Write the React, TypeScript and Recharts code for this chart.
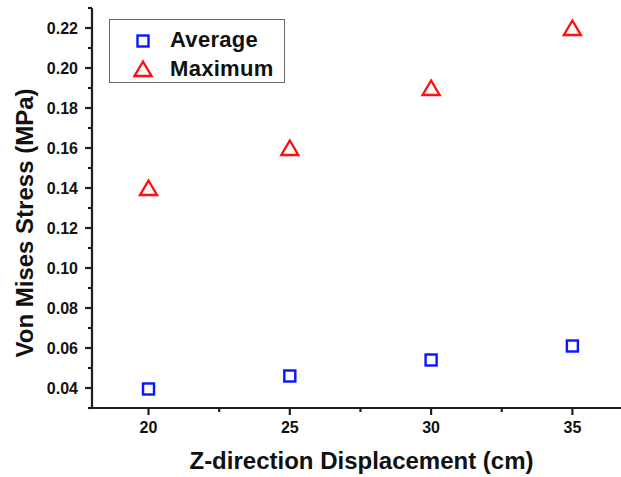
import { Label, Legend, Scatter, ScatterChart, XAxis, YAxis } from "recharts";

const displacement = [20, 25, 30, 35];
const averageStress = [0.0395, 0.046, 0.054, 0.061];
const maximumStress = [0.14, 0.16, 0.19, 0.22];

const xTicks = [20, 22.5, 25, 27.5, 30, 32.5, 35];
const xLabels = [20, 25, 30, 35];
const yTicks = [
  0.03, 0.04, 0.05, 0.06, 0.07, 0.08, 0.09, 0.1, 0.11, 0.12, 0.13, 0.14, 0.15,
  0.16, 0.17, 0.18, 0.19, 0.2, 0.21, 0.22, 0.23,
];
const yLabels = [0.04, 0.06, 0.08, 0.1, 0.12, 0.14, 0.16, 0.18, 0.2, 0.22];

const averageData = displacement.map((x, i) => ({ x, y: averageStress[i] }));
const maximumData = displacement.map((x, i) => ({ x, y: maximumStress[i] }));

const FONT = "'Liberation Sans', Arial, sans-serif";
const AXIS = "#1e1e1e";
const BLUE = "#0a14ff";
const RED = "#ff1010";

const isLabeled = (v: number, list: number[]) =>
  list.some((t) => Math.abs(t - v) < 1e-9);

function YTick(props: any) {
  const { x, y, payload } = props;
  const major = isLabeled(payload.value, yLabels);
  return (
    <g>
      <line x1={x} x2={x - (major ? 7 : 4)} y1={y} y2={y} stroke={AXIS} strokeWidth={2.2} />
      {major && (
        <text
          x={x - 14}
          y={y}
          dy="0.36em"
          textAnchor="end"
          fontSize={16}
          fontWeight="bold"
          fontFamily={FONT}
          fill="#111"
        >
          {payload.value.toFixed(2)}
        </text>
      )}
    </g>
  );
}

function XTick(props: any) {
  const { x, y, payload } = props;
  const major = isLabeled(payload.value, xLabels);
  return (
    <g>
      <line x1={x} x2={x} y1={y} y2={y + (major ? 7 : 4)} stroke={AXIS} strokeWidth={2.2} />
      {major && (
        <text
          x={x}
          y={y + 25}
          textAnchor="middle"
          fontSize={16}
          fontWeight="bold"
          fontFamily={FONT}
          fill="#111"
        >
          {payload.value}
        </text>
      )}
    </g>
  );
}

function XTitle(props: any) {
  const { x, y, width } = props.viewBox;
  return (
    <text
      x={x + width / 2 + 5}
      y={y + 61}
      textAnchor="middle"
      fontSize={24}
      fontWeight="bold"
      fontFamily={FONT}
      fill="#111"
    >
      Z-direction Displacement (cm)
    </text>
  );
}

function YTitle(props: any) {
  const { x, y, height } = props.viewBox;
  const tx = x + 33;
  const ty = y + height / 2 + 15;
  return (
    <text
      x={tx}
      y={ty}
      transform={`rotate(-90 ${tx} ${ty})`}
      textAnchor="middle"
      fontSize={24}
      fontWeight="bold"
      fontFamily={FONT}
      fill="#111"
    >
      Von Mises Stress (MPa)
    </text>
  );
}

const square = (props: any) => {
  const { cx, cy } = props;
  return (
    <rect x={cx - 5.5} y={cy - 5.5} width={11} height={11} fill="none" stroke={BLUE} strokeWidth={2.4} />
  );
};

const triangle = (props: any) => {
  const { cx, cy } = props;
  return (
    <polygon
      points={`${cx},${cy - 7.5} ${cx + 8.5},${cy + 7} ${cx - 8.5},${cy + 7}`}
      fill="none"
      stroke={RED}
      strokeWidth={2.4}
    />
  );
};

function LegendBox(props: any) {
  const items = props.payload || [];
  return (
    <div
      style={{
        position: "relative",
        width: 176,
        height: 64,
        boxSizing: "border-box",
        border: "1.5px solid #6a6a6a",
        background: "#fff",
        fontFamily: FONT,
        fontWeight: "bold",
        fontSize: 22,
        color: "#111",
      }}
    >
      {items.map((entry: any, i: number) => (
        <div
          key={entry.value}
          style={{
            position: "absolute",
            left: 0,
            top: i === 0 ? 7 : 36,
            height: 26,
            display: "flex",
            alignItems: "center",
          }}
        >
          <svg width={60} height={26} style={{ display: "block" }}>
            {entry.value === "Average" ? (
              <rect x={27.5} y={8.5} width={11} height={11} fill="none" stroke={BLUE} strokeWidth={2.4} />
            ) : (
              <polygon points="33,5.5 41.5,20 24.5,20" fill="none" stroke={RED} strokeWidth={2.4} />
            )}
          </svg>
          <span style={{ lineHeight: "26px", letterSpacing: 0.3 }}>{entry.value}</span>
        </div>
      ))}
    </div>
  );
}

export default function App() {
  return (
    <div style={{ position: "absolute", left: 0, top: 0, background: "#fff" }}>
      <ScatterChart width={621} height={477} margin={{ top: 8, right: 0, bottom: 0, left: 0 }}>
        <XAxis
          type="number"
          dataKey="x"
          domain={[18, 36.72]}
          allowDataOverflow
          ticks={xTicks}
          interval={0}
          tickSize={0}
          tickMargin={0}
          tickLine={false}
          tick={<XTick />}
          height={69}
          axisLine={{ stroke: AXIS, strokeWidth: 2.2 }}
        >
          <Label content={XTitle} />
        </XAxis>
        <YAxis
          type="number"
          dataKey="y"
          domain={[0.03, 0.23]}
          allowDataOverflow
          ticks={yTicks}
          interval={0}
          tickSize={0}
          tickMargin={0}
          tickLine={false}
          tick={<YTick />}
          width={92}
          axisLine={{ stroke: AXIS, strokeWidth: 2.2 }}
        >
          <Label content={YTitle} />
        </YAxis>
        <Legend
          layout="vertical"
          align="center"
          verticalAlign="middle"
          wrapperStyle={{ left: 109, top: 19, width: 176, height: 64 }}
          content={LegendBox}
        />
        <Scatter name="Average" data={averageData} fill={BLUE} shape={square} isAnimationActive={false} />
        <Scatter name="Maximum" data={maximumData} fill={RED} shape={triangle} isAnimationActive={false} />
      </ScatterChart>
    </div>
  );
}
